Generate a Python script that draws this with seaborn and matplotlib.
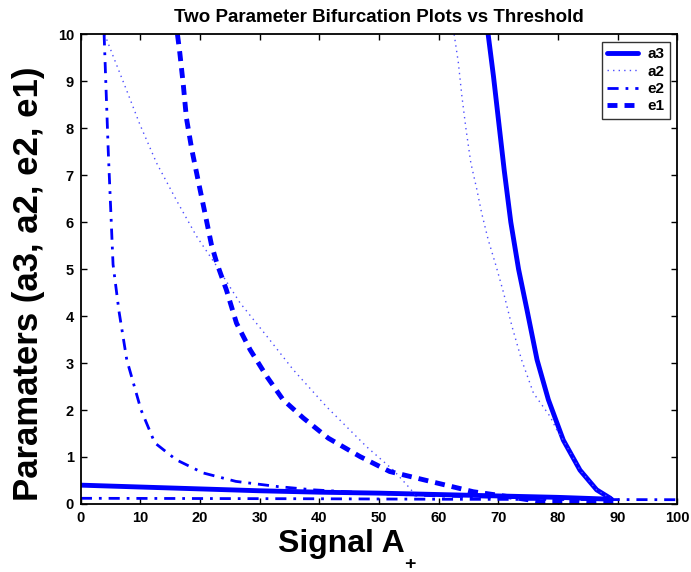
import matplotlib
matplotlib.use("Agg")
import matplotlib.pyplot as plt
import seaborn as sns
import pandas as pd

# values
a3_upper_x = [68.3, 69.2, 70.1, 71.0, 72.1, 73.4, 74.8, 76.5, 78.4, 80.9, 83.7, 86.5, 88.8]
a3_upper_y = [10.0, 9.1, 8.1, 7.1, 6.0, 5.0, 4.14, 3.07, 2.22, 1.36, 0.72, 0.30, 0.12]
a3_lower_x = [0, 10, 20, 30, 40, 50, 60, 70, 80, 89]
a3_lower_y = [0.40, 0.36, 0.32, 0.28, 0.25, 0.23, 0.20, 0.17, 0.14, 0.10]

a2_upper_x = [62.6, 63.3, 63.9, 64.6, 65.4, 66.4, 67.2, 68.3, 69.6, 70.9, 72.3, 73.9, 75.9,
              78.7, 79.8, 80.9, 83.7, 86.5, 88.8]
a2_upper_y = [10.0, 9.4, 8.68, 7.97, 7.26, 6.7, 6.2, 5.63, 5.08, 4.49, 3.78, 3.07, 2.36,
              1.86, 1.58, 1.36, 0.72, 0.30, 0.12]
a2_lower_x = [4.0, 5.4, 7.7, 9.9, 12.7, 16.1, 19.4, 22.8, 26.7, 31.2, 35.6, 41.2, 47.9, 52.4, 55.2, 57.0]
a2_lower_y = [10.0, 9.54, 8.8, 8.08, 7.26, 6.45, 5.7, 5.06, 4.28, 3.57, 2.86, 2.07, 1.22, 0.72, 0.33, 0.05]

e2_upper_x = [3.9, 4.6, 5.4, 6.4, 7.7, 10.1, 12.4, 16.0, 20.5, 26.0, 33.0, 39.0, 50, 60, 70, 80, 88]
e2_upper_y = [10.0, 7.5, 5.1, 4.1, 3.07, 2.0, 1.3, 0.94, 0.66, 0.48, 0.37, 0.30, 0.22, 0.17, 0.14, 0.12, 0.10]
e2_lower_x = [0, 20, 40, 60, 80, 100]
e2_lower_y = [0.12, 0.115, 0.11, 0.10, 0.095, 0.09]

e1_x = [16.2, 16.6, 17.2, 17.7, 18.6, 19.7, 20.8, 21.9, 22.8, 24.4, 26.1, 28.4, 31.2, 33.9,
        37.3, 41.5, 46.8, 51.8, 58.6, 65.8, 71.4, 77.0, 82.5, 85.4, 90]
e1_y = [10.0, 9.6, 8.9, 8.22, 7.55, 6.87, 6.2, 5.52, 5.13, 4.56, 3.85, 3.28, 2.71, 2.22,
        1.83, 1.4, 1.01, 0.69, 0.48, 0.26, 0.16, 0.05, 0.05, 0.03, 0.03]

x_ticks = list(range(0, 101, 10))
y_ticks = list(range(0, 11))

sns.set_style("ticks")
plt.rcParams['font.family'] = ['Liberation Sans', 'DejaVu Sans']
plt.rcParams['font.weight'] = 'bold'
for key in ['text.color', 'axes.labelcolor', 'xtick.color', 'ytick.color', 'axes.edgecolor']:
    plt.rcParams[key] = 'black'

fig = plt.figure(figsize=(6.91, 5.72), dpi=100)
ax = fig.add_axes([0.117, 0.119, 0.863, 0.821])

styles = {
    "a3": dict(color="#0000ff", lw=3.5, linestyle="-"),
    "a2": dict(color="#4d4dff", lw=1.0, linestyle=(0, (1, 3))),
    "e2": dict(color="#0000ff", lw=2.0, linestyle=(0, (4, 2.5, 1, 2.5))),
    "e1": dict(color="#0000ff", lw=3.5, linestyle=(0, (2.05, 1.45))),
}

branches = [
    ("a3", a3_upper_x, a3_upper_y, True),
    ("a3", a3_lower_x, a3_lower_y, False),
    ("a2", a2_upper_x, a2_upper_y, True),
    ("a2", a2_lower_x, a2_lower_y, False),
    ("e2", e2_upper_x, e2_upper_y, True),
    ("e2", e2_lower_x, e2_lower_y, False),
    ("e1", e1_x, e1_y, True),
]

for name, xs, ys, labelled in branches:
    df = pd.DataFrame({"x": xs, "y": ys})
    st = styles[name]
    sns.lineplot(data=df, x="x", y="y", ax=ax, sort=False, estimator=None,
                 color=st["color"], linewidth=st["lw"], linestyle=st["linestyle"],
                 label=name if labelled else None)

ax.set_xlim(0, 100)
ax.set_ylim(0, 10)
ax.set_xticks(x_ticks)
ax.set_yticks(y_ticks)
ax.tick_params(direction="in", top=True, right=True, length=4.5, width=1,
               labelsize=10.5, pad=5)
for lab in ax.get_xticklabels() + ax.get_yticklabels():
    lab.set_fontweight("bold")
for sp in ax.spines.values():
    sp.set_linewidth(1.3)
    sp.set_visible(True)

ax.set_title("Two Parameter Bifurcation Plots vs Threshold", fontsize=13.5,
             fontweight="bold", pad=9)
ax.set_xlabel("Signal A", fontsize=23, fontweight="bold")
ax.xaxis.set_label_coords(0.437, -0.053)
ax.annotate("+", xy=(1.0, 0.0), xycoords=ax.xaxis.label, xytext=(-0.5, -4.0),
            textcoords="offset points", ha="left", va="center",
            fontsize=14, fontweight="bold")
ax.set_ylabel("Paramaters (a3, a2, e2, e1)", fontsize=25, fontweight="bold")
ax.yaxis.set_label_coords(-0.06, 0.468)

leg = ax.legend(loc="upper right", fontsize=11, frameon=True, fancybox=False,
                handlelength=2.0, borderpad=0.35, labelspacing=0.22,
                handletextpad=0.6, borderaxespad=0.5)
leg.get_frame().set_edgecolor("black")
leg.get_frame().set_linewidth(1.0)
for t in leg.get_texts():
    t.set_fontweight("bold")

fig.savefig("out.png", dpi=100)
